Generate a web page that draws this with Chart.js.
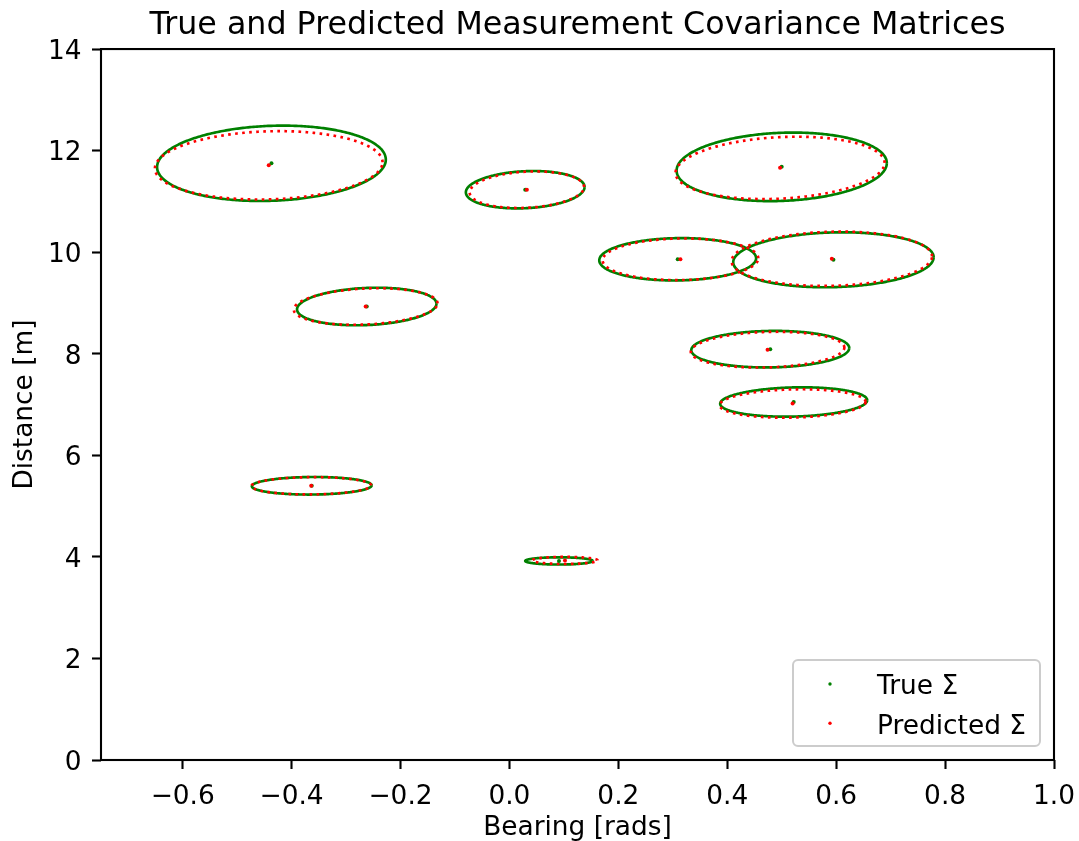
<!DOCTYPE html>
<html>
<head>
<meta charset="utf-8">
<title>Measurement covariance</title>
<script src="https://cdn.jsdelivr.net/npm/chart.js@4.4.1/dist/chart.umd.min.js"></script>
<style>
  body { margin: 0; background: #fff; }
  canvas { display: block; }
</style>
</head>
<body>
<canvas id="covChart" width="1079" height="841"></canvas>
<script>
// landmark measurements: bearing [rad], distance [m]
// spreads are the ellipse half-extents along each axis, corr is the correlation term
const trueBearing = [-0.437, 0.029, 0.500, 0.309, 0.595, -0.262, 0.479, 0.522, -0.363, 0.091];
const trueDistance = [11.75, 11.23, 11.68, 9.86, 9.85, 8.93, 8.09, 7.05, 5.40, 3.92];
const trueSpreadBearing = [0.210, 0.109, 0.193, 0.144, 0.184, 0.128, 0.145, 0.135, 0.110, 0.062];
const trueSpreadDistance = [0.742, 0.368, 0.675, 0.417, 0.541, 0.370, 0.360, 0.289, 0.173, 0.071];
const trueCorr = [0.10, 0.14, 0.11, 0.05, 0.09, 0.15, 0.06, 0.12, 0.05, 0.0];

const predBearing = [-0.442, 0.032, 0.497, 0.314, 0.592, -0.264, 0.474, 0.520, -0.364, 0.102];
const predDistance = [11.71, 11.23, 11.66, 9.86, 9.87, 8.93, 8.08, 7.02, 5.40, 3.93];
const predSpreadBearing = [0.209, 0.105, 0.192, 0.143, 0.184, 0.132, 0.141, 0.134, 0.110, 0.060];
const predSpreadDistance = [0.673, 0.360, 0.614, 0.410, 0.535, 0.360, 0.352, 0.280, 0.170, 0.070];
const predCorr = [0.09, 0.15, 0.16, 0.05, 0.09, 0.17, 0.12, 0.12, 0.05, 0.0];

const xTicks = [-0.6, -0.4, -0.2, 0.0, 0.2, 0.4, 0.6, 0.8, 1.0];
const yTicks = [0, 2, 4, 6, 8, 10, 12, 14];

const GREEN = '#008000';
const RED = '#ff0000';
const FONT = 26.4;

Chart.defaults.font.family = "'DejaVu Sans', sans-serif";
Chart.defaults.color = '#000';

// closed outline of a covariance ellipse in data coordinates
function ellipse(cx, cy, sx, sy, r) {
  const pts = [];
  const n = 200;
  const k = Math.sqrt(1 - r * r);
  for (let i = 0; i <= n; i++) {
    const t = (i / n) * 2 * Math.PI;
    pts.push({
      x: cx + sx * Math.cos(t),
      y: cy + sy * (r * Math.cos(t) + k * Math.sin(t))
    });
  }
  return pts;
}

const datasets = [];

datasets.push({
  label: 'True \u03a3',
  data: trueBearing.map((b, i) => ({ x: b, y: trueDistance[i] })),
  backgroundColor: GREEN,
  borderColor: GREEN,
  pointRadius: 2,
  pointBorderWidth: 0,
  showLine: false,
  order: 1,
  inLegend: true
});
datasets.push({
  label: 'Predicted \u03a3',
  data: predBearing.map((b, i) => ({ x: b, y: predDistance[i] })),
  backgroundColor: RED,
  borderColor: RED,
  pointRadius: 2,
  pointBorderWidth: 0,
  showLine: false,
  order: 0,
  inLegend: true
});

predBearing.forEach((b, i) => {
  datasets.push({
    data: ellipse(b, predDistance[i], predSpreadBearing[i], predSpreadDistance[i], predCorr[i]),
    showLine: true,
    borderColor: RED,
    borderWidth: 2.65,
    borderDash: [2.65, 4.4],
    borderCapStyle: 'butt',
    pointRadius: 0,
    tension: 0,
    order: 2
  });
});

// small tension keeps Chart.js off its x-monotonic fast path, which breaks closed curves
trueBearing.forEach((b, i) => {
  datasets.push({
    data: ellipse(b, trueDistance[i], trueSpreadBearing[i], trueSpreadDistance[i], trueCorr[i]),
    showLine: true,
    borderColor: GREEN,
    borderWidth: 2.65,
    pointRadius: 0,
    tension: 0.1,
    order: 3
  });
});

// full box around the plot area
const frame = {
  id: 'frame',
  afterDraw(chart) {
    const { ctx, chartArea: a } = chart;
    ctx.save();
    ctx.strokeStyle = '#000';
    ctx.lineWidth = 2.1;
    ctx.strokeRect(a.left, a.top, a.right - a.left, a.bottom - a.top);
    ctx.restore();
  }
};

// legend box in the lower right corner
const cornerLegend = {
  id: 'cornerLegend',
  afterDraw(chart) {
    const { ctx, chartArea: a } = chart;
    const w = 247, h = 86;
    const x = a.right - 14 - w;
    const y = a.bottom - 14 - h;
    ctx.save();
    ctx.beginPath();
    ctx.roundRect(x, y, w, h, 5);
    ctx.fillStyle = 'rgba(255,255,255,0.8)';
    ctx.fill();
    ctx.strokeStyle = '#cccccc';
    ctx.lineWidth = 2;
    ctx.stroke();

    const items = chart.data.datasets.filter(d => d.inLegend);
    ctx.font = FONT + "px 'DejaVu Sans', sans-serif";
    ctx.textBaseline = 'middle';
    ctx.textAlign = 'left';
    items.forEach((d, i) => {
      const cy = y + 24 + i * 39.3;
      ctx.beginPath();
      ctx.arc(x + 37, cy, 1.7, 0, 2 * Math.PI);
      ctx.fillStyle = d.backgroundColor;
      ctx.fill();
      ctx.fillStyle = '#000';
      ctx.fillText(d.label, x + 84, cy + 3.5);
    });
    ctx.restore();
  }
};

const fmtX = v => (v < 0 ? '\u2212' : '') + Math.abs(v).toFixed(1);

new Chart(document.getElementById('covChart'), {
  type: 'scatter',
  data: { datasets },
  plugins: [frame, cornerLegend],
  options: {
    responsive: false,
    animation: false,
    events: [],
    layout: { padding: { left: 0, right: 25, top: 0, bottom: 0 } },
    plugins: {
      legend: { display: false },
      tooltip: { enabled: false },
      title: {
        display: true,
        text: 'True and Predicted Measurement Covariance Matrices',
        fullSize: false,
        font: { size: 31.7, weight: 'normal' },
        color: '#000',
        padding: { top: 6.5, bottom: 4.5 }
      }
    },
    scales: {
      x: {
        type: 'linear',
        min: -0.75,
        max: 1.0,
        afterBuildTicks: s => { s.ticks = xTicks.map(v => ({ value: v })); },
        afterFit: s => { s.height = 81; s.paddingLeft = 0; s.paddingRight = 0; },
        ticks: {
          font: { size: FONT },
          color: '#000',
          padding: 12,
          maxRotation: 0,
          autoSkip: false,
          callback: v => fmtX(v)
        },
        grid: {
          drawOnChartArea: false,
          drawTicks: true,
          tickLength: 9,
          tickWidth: 2.1,
          tickColor: '#000'
        },
        border: { display: false },
        title: {
          display: true,
          text: 'Bearing [rads]',
          font: { size: FONT },
          color: '#000',
          padding: { top: 0, bottom: -3.4 }
        }
      },
      y: {
        type: 'linear',
        min: 0,
        max: 14,
        afterBuildTicks: s => { s.ticks = yTicks.map(v => ({ value: v })); },
        afterFit: s => { s.width = 101; },
        ticks: {
          font: { size: FONT },
          color: '#000',
          padding: 10.5,
          labelOffset: 3,
          autoSkip: false,
          callback: v => String(v)
        },
        grid: {
          drawOnChartArea: false,
          drawTicks: true,
          tickLength: 9,
          tickWidth: 2.1,
          tickColor: '#000'
        },
        border: { display: false },
        title: {
          display: true,
          text: 'Distance [m]',
          font: { size: FONT },
          color: '#000',
          padding: { top: 9.2, bottom: 0 }
        }
      }
    }
  }
});
</script>
</body>
</html>
